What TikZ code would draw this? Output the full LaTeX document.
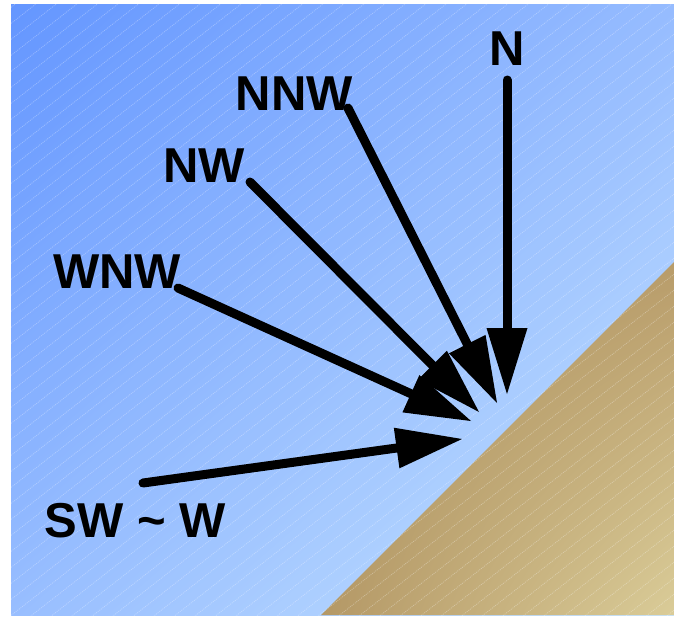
\documentclass[tikz,border=0pt]{standalone}
\usepackage{fontspec}
\setmainfont{Liberation Sans}
\usetikzlibrary{calc,shadings}
\definecolor{skyUL}{RGB}{100,150,255}
\definecolor{skyUR}{RGB}{150,188,255}
\definecolor{skyLL}{RGB}{152,190,255}
\definecolor{skyLR}{RGB}{198,228,255}
\definecolor{sandUL}{RGB}{172,145,95}
\definecolor{sandUR}{RGB}{184,156,106}
\definecolor{sandLL}{RGB}{180,152,102}
\definecolor{sandLR}{RGB}{218,204,152}
\tikzset{
  dirlabel/.style={font=\bfseries\fontsize{49}{49}\selectfont, inner sep=0pt, anchor=base, text=black},
  shaft/.style={line width=9pt, draw=black, line cap=round},
  headfill/.style={fill=black},
  hatch/.style={white, opacity=0.3, line width=0.8pt, dash pattern=on 1pt off 1pt}
}
\newcommand{\windarrow}[2]{%
  \coordinate (#1base) at ($(#2)!66pt!(#1)$);
  \draw[shaft] (#1) -- ($(#2)!60pt!(#1)$);
  \fill[headfill] (#2) -- ($(#1base)!20.5pt!90:(#2)$) -- ($(#1base)!20.5pt!-90:(#2)$) -- cycle;
}
\begin{document}
\begin{tikzpicture}[x=1pt,y=-1pt]
\useasboundingbox (0,0) rectangle (674,618);
% sky
\shade[upper left=skyUL, upper right=skyUR, lower left=skyLL, lower right=skyLR] (11,5) rectangle (674,615);
% ground
\begin{scope}
\clip (321,615) -- (674,262) -- (674,615) -- cycle;
\shade[upper left=sandUL, upper right=sandUR, lower left=sandLL, lower right=sandLR] (321,262) rectangle (674,615);
\end{scope}
% texture
\begin{scope}
\clip (11,5) rectangle (674,615);
\foreach \k in {0,...,75} {
  \draw[hatch] (0,\k*16) -- ++(800,-624);
}
\end{scope}
% labels
\node[dirlabel] (lN) at (507,65) {N};
\node[dirlabel] (lNNW) at (294.5,110) {NNW};
\node[dirlabel] (lNW) at (204,182) {NW};
\node[dirlabel] (lWNW) at (117,288) {WNW};
\node[dirlabel] (lSW) at (135,537) {SW \textasciitilde\ W};
% arrow ends
\coordinate (sN) at (507,80);
\coordinate (tN) at (507,394);
\coordinate (sNNW) at (348,108);
\coordinate (tNNW) at (497,403);
\coordinate (sNW) at (250,182);
\coordinate (tNW) at (479,412);
\coordinate (sWNW) at (178,288);
\coordinate (tWNW) at (471,421);
\coordinate (sSW) at (143,483);
\coordinate (tSW) at (462,439);
% arrows
\windarrow{sN}{tN}
\windarrow{sNNW}{tNNW}
\windarrow{sNW}{tNW}
\windarrow{sWNW}{tWNW}
\windarrow{sSW}{tSW}
\end{tikzpicture}
\end{document}
